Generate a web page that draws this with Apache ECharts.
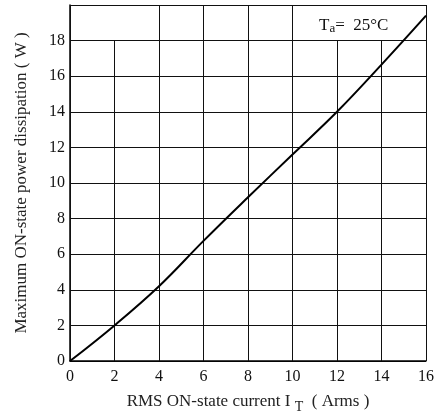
<!DOCTYPE html>
<html>
<head>
<meta charset="utf-8">
<script src="https://cdn.jsdelivr.net/npm/echarts@6/dist/echarts.min.js"></script>
<style>
html,body{margin:0;padding:0;background:#fff;}
#chart{width:434px;height:412px;}
</style>
</head>
<body>
<div id="chart"></div>
<script>
// Data
var currentRms = [0, 2, 4, 6, 8, 10, 12, 14, 16];
var powerDissipation = [0, 2.0, 4.2, 6.75, 9.2, 11.6, 14.0, 16.65, 19.4];
var xTicks = [0, 2, 4, 6, 8, 10, 12, 14, 16];
var xGridTop = [20, 18, 20, 20, 20, 20, 18, 18, 20];
var yTicks = [0, 2, 4, 6, 8, 10, 12, 14, 16, 18];

var FONT = '"Liberation Serif", "Times New Roman", serif';
var chart = echarts.init(document.getElementById('chart'));

var seriesData = currentRms.map(function (x, i) { return [x, powerDissipation[i]]; });
var vLines = xTicks.map(function (x, i) {
  return [{ coord: [x, 0] }, { coord: [x, xGridTop[i]] }];
});

chart.setOption({
  animation: false,
  backgroundColor: '#fff',
  grid: { left: 70, right: 8, top: 5, bottom: 51, containLabel: false, outerBoundsMode: 'none' },
  xAxis: {
    type: 'value', min: 0, max: 16, interval: 2,
    name: 'RMS ON-state current I {sub|T}  ( Arms )',
    nameLocation: 'middle', nameGap: 29,
    nameTextStyle: {
      fontFamily: FONT, fontSize: 17, color: '#222',
      rich: { sub: { fontFamily: FONT, fontSize: 14, color: '#222', verticalAlign: 'bottom', padding: [10, 0, 0, 0] } }
    },
    axisLine: { show: true, lineStyle: { color: '#000', width: 1.5 } },
    axisTick: { show: false },
    splitLine: { show: false },
    axisLabel: { fontFamily: FONT, fontSize: 16, color: '#111', margin: 8 }
  },
  yAxis: {
    type: 'value', min: 0, max: 20, interval: 2,
    name: 'Maximum ON-state power dissipation ( W )',
    nameLocation: 'middle', nameGap: 40, nameRotate: 90,
    nameTextStyle: { fontFamily: FONT, fontSize: 17, color: '#222' },
    axisLine: { show: true, lineStyle: { color: '#000', width: 1.5 } },
    axisTick: { show: false },
    splitLine: { show: true, lineStyle: { color: '#111', width: 1 } },
    axisLabel: {
      fontFamily: FONT, fontSize: 16, color: '#111', margin: 5,
      formatter: function (v) { return yTicks.indexOf(v) >= 0 ? String(v) : ''; }
    }
  },
  graphic: [{
    type: 'text', left: 319, top: 17,
    style: {
      text: 'T{sub|a}=  25°C',
      font: '17px ' + FONT, fill: '#111',
      rich: { sub: { fontFamily: FONT, fontSize: 13, fill: '#111', verticalAlign: 'bottom', padding: [6, 0, 0, 0] } }
    }
  }],
  series: [{
    type: 'line',
    data: seriesData,
    smooth: 0.4,
    showSymbol: false,
    lineStyle: { color: '#000', width: 2 },
    z: 5,
    markLine: {
      silent: true, symbol: 'none', label: { show: false },
      lineStyle: { color: '#111', width: 1, type: 'solid' },
      data: vLines
    }
  }]
});
</script>
</body>
</html>
